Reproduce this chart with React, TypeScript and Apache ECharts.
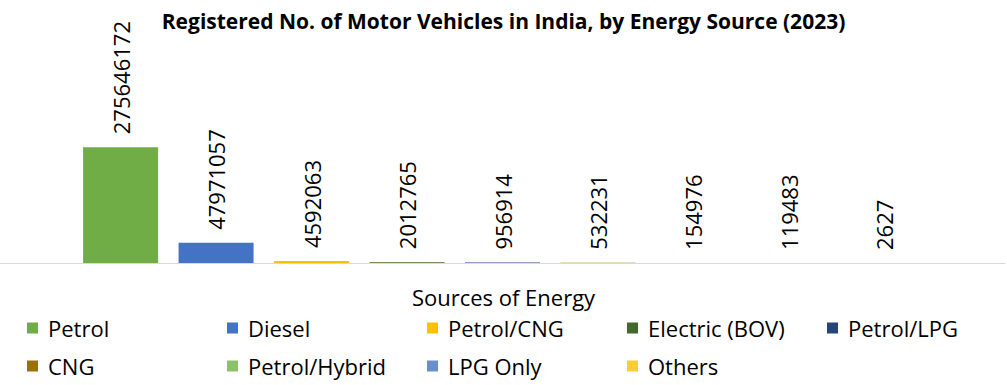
import React, { useEffect, useRef } from "react";
import * as echarts from "echarts";

const categories = ["2023"];
const sourceNames = [
  "Petrol",
  "Diesel",
  "Petrol/CNG",
  "Electric (BOV)",
  "Petrol/LPG",
  "CNG",
  "Petrol/Hybrid",
  "LPG Only",
  "Others",
];
const sourceValues = [275646172, 47971057, 4592063, 2012765, 956914, 532231, 154976, 119483, 2627];
const sourceColors = [
  "#70AD47",
  "#4472C4",
  "#FFC000",
  "#43682B",
  "#264478",
  "#997300",
  "#8CC168",
  "#698ED0",
  "#FFCD33",
];

const FONT = "'Open Sans', 'Noto Sans', sans-serif";

export default function App() {
  const ref = useRef<HTMLDivElement>(null);
  useEffect(() => {
    if (!ref.current) return;
    const chart = echarts.init(ref.current, null, { renderer: "svg" });
    chart.setOption({
      animation: false,
      backgroundColor: "#ffffff",
      title: [
        {
          text: "Registered No. of Motor Vehicles in India, by Energy Source (2023)",
          left: "center",
          top: 5,
          textStyle: { fontFamily: FONT, fontSize: 21, fontWeight: "bold", color: "#000" },
        },
        {
          text: "Sources of Energy",
          left: "center",
          top: 281,
          textStyle: { fontFamily: FONT, fontSize: 22, fontWeight: "normal", color: "#000" },
        },
      ],
      legend: {
        left: 22,
        top: 304,
        width: 1015,
        itemWidth: 11,
        itemHeight: 11,
        itemGap: 0,
        icon: "rect",
        data: sourceNames,
        formatter: (name: string) => `{a|${name}}`,
        textStyle: {
          fontFamily: FONT,
          fontSize: 22,
          color: "#000",
          rich: {
            a: { width: 179, height: 38, lineHeight: 38, padding: [0, 0, 0, 5], fontFamily: FONT, fontSize: 22, color: "#000" },
          },
        },
      },
      grid: { left: 0, right: 2, top: 53, bottom: 122 },
      xAxis: {
        type: "category",
        data: categories,
        axisLabel: { show: false },
        axisTick: { show: false },
        axisLine: { lineStyle: { color: "#D9D9D9", width: 1 } },
      },
      yAxis: {
        type: "value",
        min: 0,
        max: 500000000,
        show: false,
        splitLine: { show: false },
      },
      series: sourceNames.map((name, i) => ({
        name,
        type: "bar",
        data: [sourceValues[i]],
        barWidth: 75,
        barGap: "27.3%",
        itemStyle: { color: sourceColors[i] },
        label: {
          show: true,
          position: "top",
          rotate: 90,
          align: "left",
          verticalAlign: "middle",
          distance: 13,
          fontFamily: FONT,
          fontSize: 22,
          color: "#000",
        },
      })),
    });
    return () => chart.dispose();
  }, []);
  return (
    <div
      ref={ref}
      style={{ position: "fixed", left: 0, top: 0, width: 1007, height: 385 }}
    />
  );
}
